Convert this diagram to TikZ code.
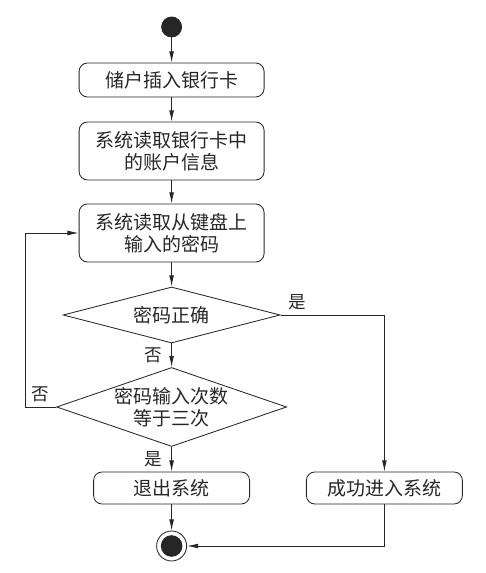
\documentclass[tikz,border=0pt]{standalone}
\usepackage{fontspec}
\newfontfamily\cjk{Noto Sans CJK SC}
\usetikzlibrary{arrows.meta, positioning, shapes.geometric, calc}
\tikzset{
    actbox/.style={
        draw,
        rounded corners=6pt,
        minimum width=4.625cm,
        minimum height=0.85cm,
        inner sep=2pt,
        align=center
    },
    smallact/.style={
        actbox,
        minimum width=3.9cm,
        minimum height=0.8cm
    },
    decision/.style={draw, diamond, inner sep=0pt, align=center},
    startdot/.style={circle, draw, fill, minimum size=0.5cm, inner sep=0pt},
    enddot/.style={
        circle,
        draw,
        minimum size=0.75cm,
        inner sep=0pt,
        path picture={\fill (path picture bounding box.center) circle (0.27cm);}
    },
    flow/.style={-{Latex[length=2.8mm,width=1.2mm]}},
    yesno/.style={font=\cjk\fontsize{12.5}{14}\selectfont},
    every node/.style={font=\cjk\fontsize{13.5}{15.5}\selectfont}
}

\begin{document}
\begin{tikzpicture}[color=black!85, line width=0.6pt]
\useasboundingbox (0,0) rectangle (12.125,14.325);

% main flow
\node[startdot] (start) at (4.29,13.65) {};
\node[actbox] (insert) at (4.29,12.325) {储户插入银行卡};
\node[actbox, minimum height=1.45cm] (readcard) at (4.29,10.55) {系统读取银行卡中\\的账户信息};
\node[actbox, minimum height=1.45cm] (readpwd) at (4.29,8.5) {系统读取从键盘上\\输入的密码};
\node[decision, aspect=3.9, minimum width=5.425cm, minimum height=1.4cm] (check) at (4.29,6.45) {密码正确};
\node[decision, aspect=2.9, minimum width=5.75cm, minimum height=1.975cm] (count) at (4.29,4.15) {密码输入次数\\等于三次};
\node[smallact] (quit) at (4.29,2.125) {退出系统};
\node[smallact] (enter) at (9.61,2.125) {成功进入系统};
\node[enddot] (stop) at (4.29,0.675) {};

\draw[flow] (start) -- (insert);
\draw[flow] (insert) -- (readcard);
\draw[flow] (readcard) -- (readpwd);
\draw[flow] (readpwd) -- (check);
\draw[flow] (check) -- node[left=3pt, yesno] {否} (count);
\draw[flow] (count) -- node[left=3pt, yesno] {是} (quit);
\draw[flow] (quit) -- (stop);

% loop back on wrong password
\coordinate (back) at (0.625,4.15);
\draw[flow] (count.west) -- node[above, yesno] {否} (back) |- (readpwd.west);

% success branch
\draw[flow] (check.east) -| node[pos=0.08, above, yesno] {是} (enter.north);
\draw[flow] (enter.south) |- (stop.east);

\end{tikzpicture}
\end{document}
